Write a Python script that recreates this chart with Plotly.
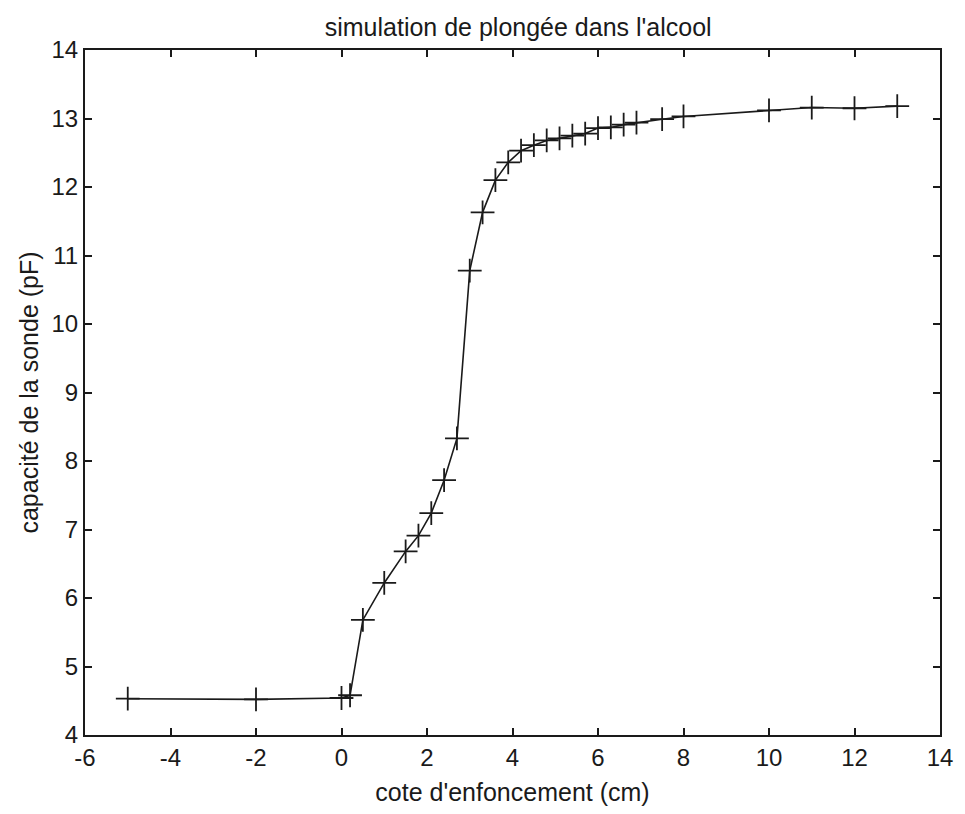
import plotly.graph_objects as go

# Immersion depth (cm) and probe capacitance (pF)
depth_cm = [-5, -2, 0, 0.2, 0.5, 1.0, 1.5, 1.8, 2.1, 2.4, 2.7, 3.0, 3.3, 3.6, 3.9,
            4.2, 4.5, 4.8, 5.1, 5.4, 5.7, 6.0, 6.3, 6.6, 6.9, 7.5, 8, 10, 11, 12, 13]
capacitance_pf = [4.53, 4.52, 4.54, 4.58, 5.68, 6.22, 6.68, 6.91, 7.24, 7.72, 8.33,
                  10.78, 11.63, 12.10, 12.36, 12.53, 12.61, 12.68, 12.71, 12.75, 12.78,
                  12.86, 12.87, 12.91, 12.94, 12.99, 13.03, 13.12, 13.16, 13.15, 13.18]

x_ticks = [-6, -4, -2, 0, 2, 4, 6, 8, 10, 12, 14]
x_tick_labels = ["-6", "-4", "-2", "0", "2", "4", "6", "8", "10", "12", "14"]
y_ticks = [4, 5, 6, 7, 8, 9, 10, 11, 12, 13, 14]

FONT = "Liberation Sans Narrow, Arial Narrow, Liberation Sans, Arial, sans-serif"
INK = "#1a1a1a"

fig = go.Figure(
    go.Scatter(
        x=depth_cm,
        y=capacitance_pf,
        mode="lines+markers",
        line=dict(color=INK, width=1.6),
        marker=dict(symbol="cross-thin", size=17,
                    line=dict(color=INK, width=1.8)),
        showlegend=False,
    )
)

axis_common = dict(
    showgrid=False,
    zeroline=False,
    showline=True,
    linecolor=INK,
    linewidth=2,
    mirror="ticks",
    ticks="inside",
    ticklen=7,
    tickwidth=1.6,
    tickcolor=INK,
    tickfont=dict(family=FONT, size=24, color=INK),
)

fig.update_layout(
    width=965,
    height=814,
    margin=dict(l=85, r=22, t=50, b=79),
    paper_bgcolor="white",
    plot_bgcolor="white",
    title=dict(
        text="simulation de plongée dans l'alcool",
        x=0.537,
        xanchor="center",
        y=1 - 27 / 814,
        yanchor="middle",
        font=dict(family=FONT, size=25, color=INK),
    ),
    xaxis=dict(
        axis_common,
        range=[-6, 14],
        tickvals=x_ticks,
        ticktext=x_tick_labels,
        title=dict(text="cote d'enfoncement (cm)", standoff=14,
                   font=dict(family=FONT, size=25, color=INK)),
    ),
    yaxis=dict(
        axis_common,
        range=[4, 14],
        tickvals=y_ticks,
        title=dict(text="capacité de la sonde (pF)", standoff=6,
                   font=dict(family=FONT, size=25, color=INK)),
    ),
)

fig.write_html("out.html")
